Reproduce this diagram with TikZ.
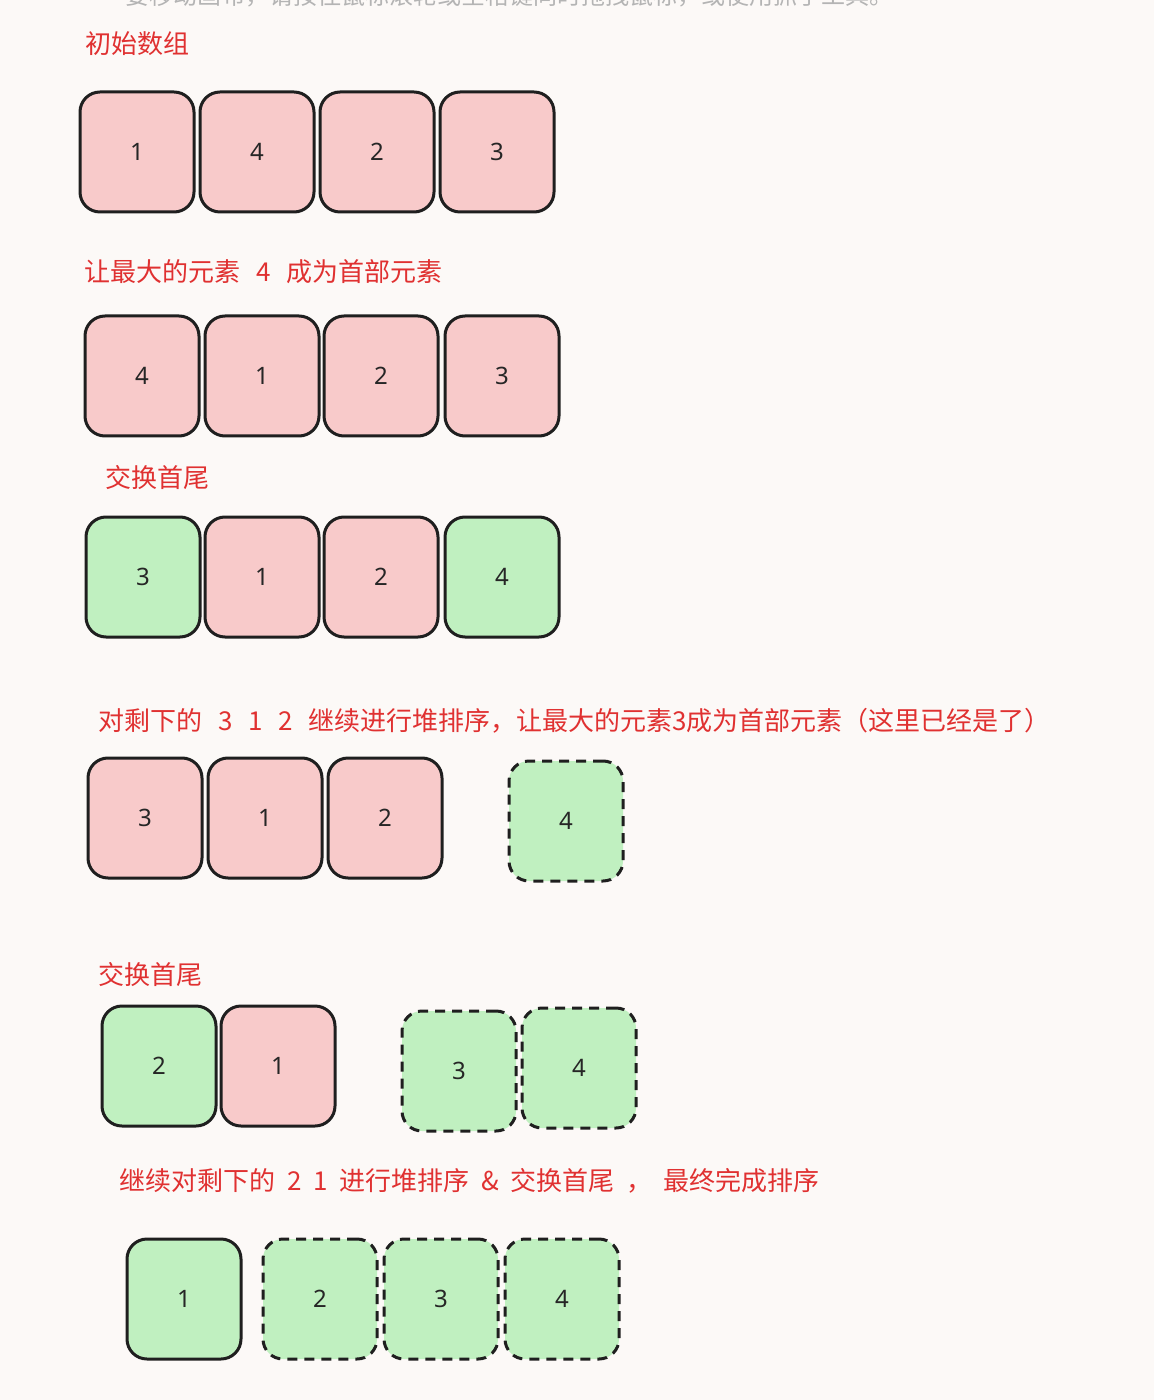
\documentclass[tikz,border=0pt]{standalone}
\usepackage{fontspec}
\setmainfont{Noto Sans CJK SC}
\newfontfamily\numfont{Noto Sans}
\usetikzlibrary{positioning}
\definecolor{paper}{RGB}{252,249,247}
\definecolor{cellred}{RGB}{248,202,202}
\definecolor{cellgreen}{RGB}{192,240,192}
\definecolor{notered}{RGB}{224,49,49}
\definecolor{hintgray}{RGB}{180,180,180}
\tikzset{
    cell/.style={draw=black!88,line width=1.5pt,rounded corners=10pt,
        minimum width=57pt,minimum height=60pt,inner sep=0pt,
        font=\numfont\fontsize{12}{12}\selectfont,text=black!85},
    done cell/.style={cell,fill=cellgreen,dash pattern=on 5pt off 3.5pt},
    note/.style={anchor=west,inner sep=0pt,text=notered,font=\fontsize{13}{13}\selectfont},
    hint/.style={anchor=west,inner sep=0pt,text=hintgray,font=\fontsize{12}{12}\selectfont},
}
\newcommand{\gapsp}{\hspace{0.6em}}
\newcommand{\gapsm}{\hspace{0.45em}}

\begin{document}
\begin{tikzpicture}[x=0.5pt,y=-0.5pt]
    \fill[paper] (0,0) rectangle (1154,1400);
    \useasboundingbox (0,0) rectangle (1154,1400);
    \node[hint] (hint) at (125,-4) {要移动画布，请按住鼠标滚轮或空格键同时拖拽鼠标，或使用抓手工具。};
    % initial array
    \node[note] (t1) at (85,44) {初始数组};
    \foreach \x/\v/\c [count=\i] in {137/1/cellred,257/4/cellred,377/2/cellred,497/3/cellred}
        \node[cell,fill=\c] (a-\i) at (\x,152) {\v};
    % max to front
    \node[note] (t2) at (84,272) {让最大的元素\gapsp 4\gapsp 成为首部元素};
    \foreach \x/\v/\c [count=\i] in {142/4/cellred,262/1/cellred,381/2/cellred,502/3/cellred}
        \node[cell,fill=\c] (b-\i) at (\x,376) {\v};
    % swap
    \node[note] (t3) at (105,478) {交换首尾};
    \foreach \x/\v/\c [count=\i] in {143/3/cellgreen,262/1/cellred,381/2/cellred,502/4/cellgreen}
        \node[cell,fill=\c] (c-\i) at (\x,577) {\v};
    % heapify 3 1 2
    \node[note] (t4) at (98,721) {对剩下的\gapsp 3\gapsp 1\gapsp 2\gapsp 继续进行堆排序，让最大的元素3成为首部元素（这里已经是了）};
    \foreach \x/\v/\c [count=\i] in {145/3/cellred,265/1/cellred,385/2/cellred}
        \node[cell,fill=\c] (d-\i) at (\x,818) {\v};
    \node[done cell] (d-4) at (566,821) {4};
    % swap again
    \node[note] (t5) at (98,975) {交换首尾};
    \node[cell,fill=cellgreen] (e-1) at (159,1066) {2};
    \node[cell,fill=cellred] (e-2) at (278,1066) {1};
    \node[done cell] (e-3) at (459,1071) {3};
    \node[done cell] (e-4) at (579,1068) {4};
    % finished
    \node[note] (t6) at (119,1181) {继续对剩下的\gapsm 2\gapsm 1\gapsm 进行堆排序\gapsm \&\gapsm 交换首尾\gapsm ，\gapsm 最终完成排序};
    \node[cell,fill=cellgreen] (f-1) at (184,1299) {1};
    \foreach \x/\v [count=\i from 2] in {320/2,441/3,562/4}
        \node[done cell] (f-\i) at (\x,1299) {\v};
\end{tikzpicture}
\end{document}
